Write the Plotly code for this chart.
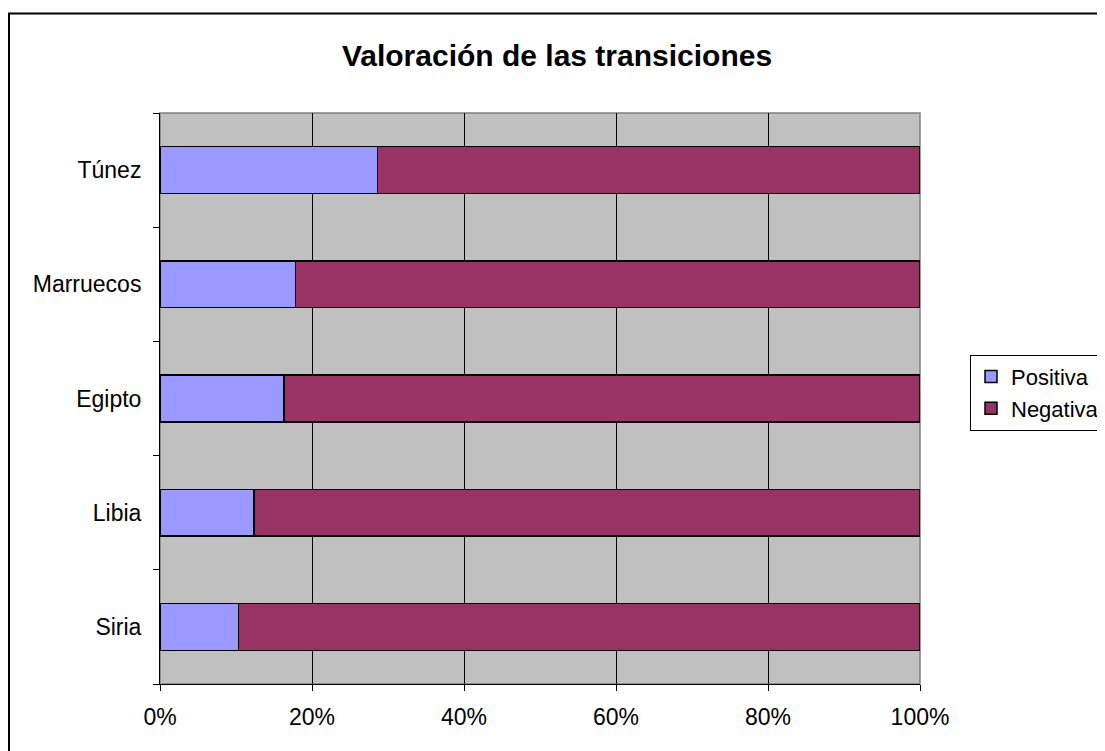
import plotly.graph_objects as go

# valores (porcentaje)
paises = ["Siria", "Libia", "Egipto", "Marruecos", "Túnez"]
positiva = [10.3, 12.4, 16.3, 17.8, 28.6]
negativa = [89.7, 87.6, 83.7, 82.2, 71.4]
ticks_x = [0, 20, 40, 60, 80, 100]
etiquetas_x = ["0%", "20%", "40%", "60%", "80%", "100%"]

fuente = "Liberation Sans, Arial, sans-serif"

fig = go.Figure()
fig.add_trace(go.Bar(y=paises, x=positiva, name="Positiva", orientation="h",
                     marker=dict(color="#9999FF", line=dict(color="black", width=1.5))))
fig.add_trace(go.Bar(y=paises, x=negativa, name="Negativa", orientation="h",
                     marker=dict(color="#993366", line=dict(color="black", width=1.5))))

# la página añade 8px de margen al body: los márgenes lo compensan.
# la figura es algo más ancha que la ventana para que la leyenda quede cortada a la derecha
W = 1130
fig.update_layout(
    barmode="stack",
    bargap=0.59,
    width=W, height=751,
    margin=dict(l=152, r=W - 912, t=105, b=75),
    paper_bgcolor="white",
    plot_bgcolor="#C0C0C0",
    font=dict(family=fuente, size=23, color="black"),
    title=dict(text="<b>Valoración de las transiciones</b>", x=549 / W, xanchor="center",
               y=1 - 47 / 751, yanchor="middle", font=dict(size=30)),
    legend=dict(x=(962 - 152) / 760, y=0.51, xanchor="left", yanchor="middle",
                bordercolor="black", borderwidth=1, font=dict(size=22),
                itemwidth=30, traceorder="normal"),
    showlegend=True,
)
fig.update_xaxes(range=[0, 100], tickvals=ticks_x, ticktext=etiquetas_x,
                 showgrid=True, gridcolor="black", gridwidth=1,
                 ticks="outside", ticklen=6, tickcolor="black", ticklabelstandoff=6,
                 showline=True, linecolor="black", zeroline=False, mirror=False)
fig.update_yaxes(categoryorder="array", categoryarray=paises,
                 ticks="outside", tickson="boundaries", ticklen=6, tickcolor="black",
                 showline=True, linecolor="black", showgrid=False, ticklabelstandoff=13)

# borde del área de trazado (gris) y marco del gráfico
fig.add_shape(type="rect", xref="paper", yref="paper", x0=0, x1=1, y0=0, y1=1,
              line=dict(color="#808080", width=1.5), layer="below")
fig.add_shape(type="rect", xref="paper", yref="paper", x0=(1 - 152) / 760, x1=1.4,
              y0=-0.3, y1=(676 - 5.5) / 571, line=dict(color="black", width=2))

fig.write_html("out.html")
